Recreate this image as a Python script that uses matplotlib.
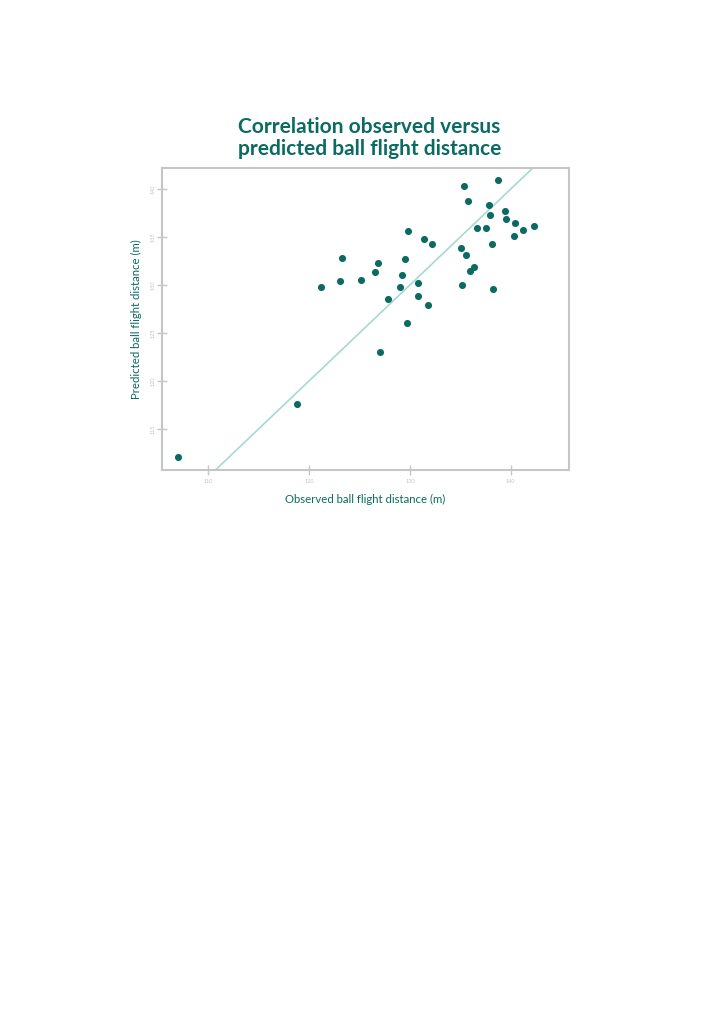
import numpy as np
import matplotlib.pyplot as plt

# observed vs predicted ball flight distance (m)
observed = [106.99, 118.81, 121.22, 123.08, 123.28, 125.19, 126.49, 126.85, 127.05, 127.78,
            129.04, 129.21, 129.47, 129.73, 129.83, 130.82, 130.85, 131.42, 131.82, 132.15,
            135.03, 135.13, 135.39, 135.62, 135.76, 135.96, 136.36, 136.71, 137.51, 137.87,
            138.00, 138.20, 138.27, 138.70, 139.49, 139.59, 140.33, 140.46, 141.22, 142.31]
predicted = [112.06, 117.62, 129.77, 130.40, 132.83, 130.53, 131.34, 132.28, 122.99, 128.55,
             129.83, 131.02, 132.72, 126.08, 135.62, 130.22, 128.86, 134.78, 127.95, 134.32,
             133.90, 129.98, 140.31, 133.17, 138.71, 131.47, 131.89, 135.93, 135.99, 138.36,
             137.32, 134.32, 129.59, 140.97, 137.77, 136.87, 135.16, 136.45, 135.72, 136.20]

x_ticks = [110, 120, 130, 140]
y_ticks = [115, 120, 125, 130, 135, 140]

teal = '#0b6b62'
line_col = '#a6d9d3'
grey = '#c6c6c6'

plt.rcParams['font.family'] = ['Lato', 'DejaVu Sans']

fig = plt.figure(figsize=(7.24, 10.24), dpi=100)
ax = fig.add_axes([0.2238, 0.541, 0.5622, 0.2949])

x0, x1 = 105.4, 145.8
y0, y1 = 110.7, 142.2
# identity line
ax.plot([x0, x1], [x0, x1], color=line_col, lw=1.2, zorder=1)
ax.scatter(observed, predicted, s=26, color=teal, zorder=2, linewidths=0)

ax.set_xlim(x0, x1)
ax.set_ylim(y0, y1)
ax.set_xticks(x_ticks)
ax.set_yticks(y_ticks)
ax.tick_params(direction='inout', length=7, width=1, color=grey,
               labelsize=4, labelcolor='#c4c4c4')
ax.tick_params(axis='x', pad=3)
ax.tick_params(axis='y', pad=1)
for lab in ax.get_yticklabels():
    lab.set_rotation(90)
    lab.set_va('center')
for s in ax.spines.values():
    s.set_color(grey)
    s.set_linewidth(1.5)

ax.set_xlabel('Observed ball flight distance (m)', color=teal, fontsize=8.2, labelpad=7)
ax.set_ylabel('Predicted ball flight distance (m)', color=teal, fontsize=8.2, labelpad=6)

fig.text(0.51, 0.865, 'Correlation observed versus\npredicted ball flight distance',
         ha='center', va='center', color=teal, fontsize=15, fontweight='bold',
         linespacing=1.1)

fig.savefig('out.png', dpi=100)
